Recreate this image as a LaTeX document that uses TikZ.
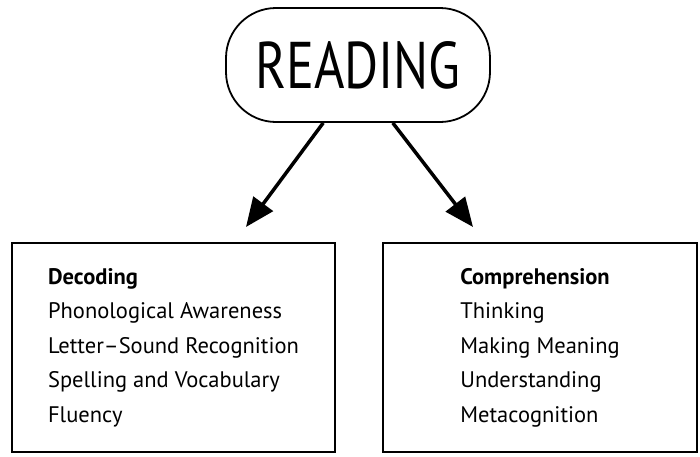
\documentclass[tikz,border=0pt]{standalone}
\usepackage{fontspec}
\setmainfont{PT Sans}
\newfontfamily\titlefont[FakeStretch=0.79]{PT Sans}
\usetikzlibrary{positioning, arrows.meta, calc}

\begin{document}
\begin{tikzpicture}[
  x=1pt, y=-1pt,
  topic/.style={
    draw,
    line width=1.8pt,
    rounded corners=50pt,
    minimum width=264pt,
    minimum height=114pt,
    inner sep=0pt,
    font=\titlefont\fontsize{66}{66}\selectfont
  },
  branch/.style={
    draw,
    line width=2pt,
    align=left,
    minimum height=209pt,
    inner sep=0pt,
    font=\fontsize{22.5}{34.5}\selectfont
  },
  flow/.style={-{Triangle[length=29pt, width=24pt]}, line width=3.5pt}
]
\useasboundingbox (0,0) rectangle (700,456);

\node[topic] (reading) at (358,65) {READING};

\node[branch, minimum width=323pt] (decoding) at (173.5,347.5)
  {\textbf{Decoding}\\
   Phonological Awareness\\
   Letter--Sound Recognition\\
   Spelling and Vocabulary\\
   Fluency};
\node[branch, minimum width=314pt] (comprehension) at (540,347.5)
  {\textbf{Comprehension}\\
   Thinking\\
   Making Meaning\\
   Understanding\\
   Metacognition};

\coordinate (dectip) at (246,227);
\coordinate (comptip) at (473,227);

\draw[flow] (reading.239) -- (dectip);
\draw[flow] (reading.301) -- (comptip);
\end{tikzpicture}
\end{document}
